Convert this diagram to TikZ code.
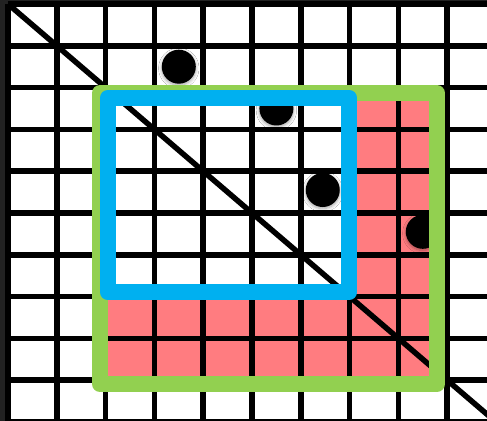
\documentclass[tikz,border=0pt]{standalone}
\usetikzlibrary{shadows.blur}
\definecolor{frame}{HTML}{222222}
\definecolor{zonegreen}{HTML}{92D050}
\definecolor{zoneblue}{HTML}{00B0F0}
\definecolor{zonepink}{HTML}{FF7C80}
\tikzset{
  gridline/.style={draw=black,line width=2.75pt},
  zone/.style={line width=8pt,line join=round},
  dot/.style={circle,fill=black,minimum size=17pt,inner sep=0pt,
    blur shadow={shadow xshift=0pt,shadow yshift=-.8pt,shadow blur steps=6,
      shadow blur radius=1.6pt,shadow opacity=35}}}

\begin{document}
\begin{tikzpicture}[x=24.4pt,y=-20.9pt]
% page frame and white sheet
\fill[frame](-0.1639,-0.0957)rectangle(9.8156,9.9761);
\useasboundingbox(-0.1639,-0.0957)rectangle(9.8156,9.9761);
\fill[white](0,0)rectangle(10,10);
% shaded zone and the window inside it
\fill[zonepink](1.885,2.13)rectangle(8.79,9.09);
\fill[white](2.05,2.24)rectangle(6.99,6.9);
% grid
\foreach \i in {0,...,10}{
  \draw[gridline](\i,0)--(\i,10);
  \draw[gridline](0,\i)--(10,\i);
}
\draw[gridline](0,0)--(10,10);
% points
\node[dot](p1)at(3.5,1.5){};
\node[dot](p2)at(5.5,2.5){};
\node[dot](p3)at(6.45,4.45){};
\node[dot](p4)at(8.5,5.45){};
% outlines
\draw[zone,zonegreen](1.885,2.13)rectangle(8.79,9.09);
\draw[zone,zoneblue](2.05,2.24)rectangle(6.99,6.9);
\end{tikzpicture}
\end{document}
